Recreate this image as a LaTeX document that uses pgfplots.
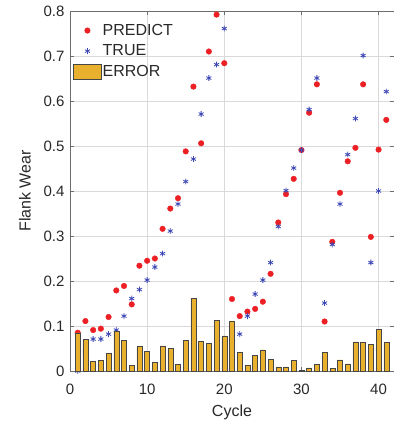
\documentclass[border=0pt]{standalone}
\usepackage{pgfplots}
\pgfplotsset{compat=1.18}
\usepackage{pgfplotstable}
\usepackage{fontspec}
\setmainfont{Liberation Sans}
\definecolor{predred}{RGB}{236,32,36}
\definecolor{trueblue}{RGB}{60,70,180}
\definecolor{errgold}{RGB}{233,176,46}
\definecolor{erredge}{RGB}{70,70,70}
\definecolor{axgray}{RGB}{110,110,110}
\definecolor{txtgray}{RGB}{40,40,40}
\pgfplotsset{
  markimg/.style={legend image code/.code={\draw[##1] plot coordinates {(14pt,0pt)};}},
  barimg/.style={legend image code/.code={\draw[##1] (0pt,-7.5pt) rectangle (28pt,7.5pt);}},
}
\pgfplotstableread{
x predict true error
1 0.085 0.000 0.085
2 0.111 0.041 0.070
3 0.091 0.071 0.021
4 0.094 0.071 0.024
5 0.120 0.082 0.039
6 0.179 0.091 0.088
7 0.189 0.122 0.068
8 0.148 0.161 0.013
9 0.234 0.181 0.054
10 0.245 0.202 0.044
11 0.250 0.231 0.020
12 0.316 0.261 0.056
13 0.361 0.311 0.050
14 0.384 0.371 0.014
15 0.488 0.421 0.068
16 0.632 0.471 0.162
17 0.506 0.571 0.066
18 0.710 0.651 0.061
19 0.792 0.681 0.113
20 0.684 0.761 0.078
21 0.160 0.049 0.111
22 0.122 0.082 0.041
23 0.132 0.122 0.013
24 0.138 0.171 0.035
25 0.154 0.202 0.047
26 0.216 0.241 0.026
27 0.330 0.321 0.009
28 0.393 0.401 0.009
29 0.427 0.451 0.024
30 0.491 0.491 0.001
31 0.574 0.581 0.007
32 0.637 0.651 0.015
33 0.110 0.151 0.042
34 0.287 0.281 0.006
35 0.396 0.371 0.025
36 0.466 0.481 0.016
37 0.496 0.561 0.065
38 0.637 0.701 0.064
39 0.298 0.241 0.059
40 0.492 0.400 0.092
41 0.558 0.621 0.063
}\datatable
\begin{document}
\begin{tikzpicture}
\path[use as bounding box] (-70pt,-50pt) rectangle (324pt,371pt);
\begin{axis}[
  at={(0pt,0pt)}, anchor=origin,
  scale only axis,
  width=324pt, height=360pt,
  xmin=0, xmax=42, ymin=0, ymax=0.8,
  xtick={0,10,20,30,40},
  ytick={0,0.1,0.2,0.3,0.4,0.5,0.6,0.7,0.8},
  yticklabel style={/pgf/number format/fixed,/pgf/number format/precision=1},
  /pgf/number format/assume math mode=true,
  tick align=inside,
  major tick length=4pt,
  tick style={axgray, line width=0.5pt},
  axis line style={axgray, line width=0.6pt},
  grid=major,
  major grid style={black!15, line width=0.6pt},
  ticklabel style={font=\fontsize{15}{18}\selectfont, text=txtgray},
  xticklabel style={anchor=base, yshift=-23pt},
  yticklabel style={anchor=east, xshift=-2pt},
  xlabel={Cycle},
  ylabel={Flank Wear},
  label style={font=\fontsize{16}{19}\selectfont, text=txtgray},
  xlabel style={at={(axis description cs:0.5,0)}, anchor=base, yshift=-45.7pt},
  ylabel style={at={(axis description cs:-0.139,0.5)}, anchor=center},
  legend style={at={(0,1)}, anchor=north west, xshift=3pt, yshift=-12pt,
    draw=none, fill=none, font=\fontsize{16}{19}\selectfont, text=txtgray,
    row sep=6pt, inner sep=0pt,
    nodes={inner sep=1pt}},
  legend cell align=left,
  clip=false,
  clip marker paths=true,
]
\addplot[only marks, mark=*, mark size=2.8pt, color=predred, fill=predred, markimg]
  table[x=x, y=predict] {\datatable};
\addlegendentry{PREDICT}
\addplot[only marks, mark=asterisk, mark size=2.9pt, color=trueblue, line width=0.8pt, markimg]
  table[x=x, y=true] {\datatable};
\addlegendentry{TRUE}
\addplot[ybar, bar width=0.65, fill=errgold, draw=erredge, line width=0.5pt, barimg]
  table[x=x, y=error] {\datatable};
\addlegendentry{ERROR}
\end{axis}
\end{tikzpicture}
\end{document}
